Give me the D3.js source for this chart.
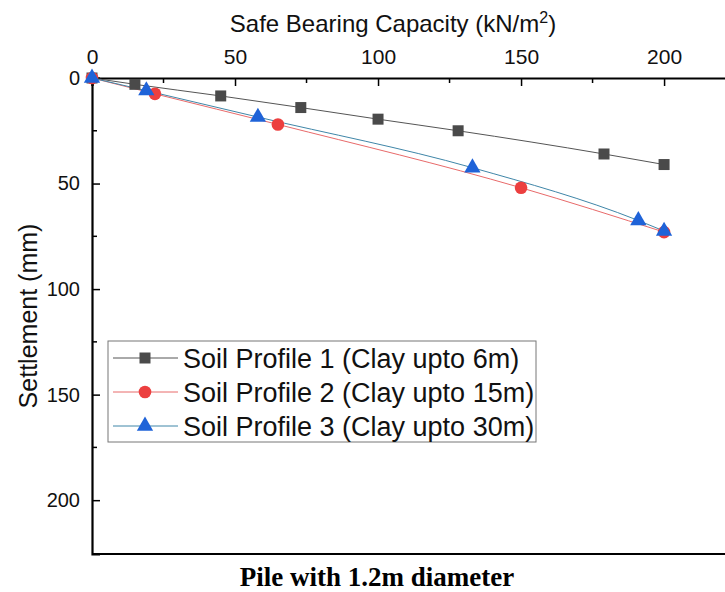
<!DOCTYPE html>
<html>
<head>
<meta charset="utf-8">
<script src="https://cdn.jsdelivr.net/npm/d3@7"></script>
<style>
  body { margin: 0; background: #fff; }
  svg { display: block; }
</style>
</head>
<body>
<div id="chart"></div>
<script>
'use strict';

// data
var xTicks = [0, 50, 100, 150, 200];
var yTicks = [0, 50, 100, 150, 200];
var xMinor = [25, 75, 125, 175, 225];
var yMinor = [25, 75, 125, 175];

var sbc1 = [0, 15, 45, 73, 100, 128, 179, 200];
var set1 = [0, 3, 8.5, 14, 19.5, 25, 36, 41];

var sbc2 = [0, 22, 65, 150, 200];
var set2 = [0, 7.5, 22, 52, 73];

var sbc3 = [0, 19, 58, 133, 191, 200];
var set3 = [0, 6, 18.5, 42.5, 67.5, 72.5];

var names = ["Soil Profile 1 (Clay upto 6m)", "Soil Profile 2 (Clay upto 15m)", "Soil Profile 3 (Clay upto 30m)"];

var W = 725, H = 592;
var margin = {top: 78, left: 92, bottom: 38};
var sans = "Liberation Sans, Arial, sans-serif";

var svg = d3.select("#chart").append("svg")
  .attr("width", W)
  .attr("height", H);

var x = d3.scaleLinear().domain([0, 222]).range([margin.left, 727]);
var y = d3.scaleLinear().domain([0, 225.5]).range([margin.top, H - margin.bottom]);

// top axis, ticks pointing into the plot
var xAxis = svg.append("g").attr("transform", "translate(0," + margin.top + ")");
xAxis.call(d3.axisTop(x).tickValues(xTicks).tickSize(-8).tickPadding(14).tickFormat(d3.format("d")));
xAxis.append("g").selectAll("line").data(xMinor).enter().append("line")
  .attr("x1", function(d) { return x(d); }).attr("x2", function(d) { return x(d); })
  .attr("y1", 0).attr("y2", 5).attr("stroke", "#000").attr("stroke-width", 1.5);
xAxis.selectAll(".tick text").attr("font-size", 21);

var yAxis = svg.append("g").attr("transform", "translate(" + margin.left + ",0)");
yAxis.call(d3.axisLeft(y).tickValues(yTicks).tickSize(-8).tickPadding(12).tickFormat(d3.format("d")));
yAxis.append("g").selectAll("line").data(yMinor).enter().append("line")
  .attr("y1", function(d) { return y(d); }).attr("y2", function(d) { return y(d); })
  .attr("x1", 0).attr("x2", 5).attr("stroke", "#000").attr("stroke-width", 1.5);
yAxis.selectAll(".tick text").attr("font-size", 20);

svg.selectAll(".domain").attr("stroke", "#000").attr("stroke-width", 2.2);
svg.selectAll(".tick line").attr("stroke", "#000").attr("stroke-width", 1.5);
svg.selectAll(".tick text")
  .attr("font-family", sans)
  .attr("fill", "#111");

// bottom frame line
svg.append("line")
  .attr("x1", x(0)).attr("x2", W)
  .attr("y1", y(225.5)).attr("y2", y(225.5))
  .attr("stroke", "#000").attr("stroke-width", 2.2);

// axis titles
svg.append("text")
  .attr("x", 393).attr("y", 32)
  .attr("text-anchor", "middle")
  .attr("font-family", sans)
  .attr("font-size", 24)
  .attr("fill", "#111")
  .html("Safe Bearing Capacity (kN/m<tspan dy='-9' font-size='16'>2</tspan><tspan dy='9'>)</tspan>");

svg.append("text")
  .attr("transform", "translate(37," + ((y(0) + y(225.5)) / 2) + ") rotate(-90)")
  .attr("text-anchor", "middle")
  .attr("font-family", sans)
  .attr("font-size", 25)
  .attr("fill", "#111")
  .text("Settlement (mm)");

svg.append("text")
  .attr("x", 377).attr("y", 586)
  .attr("text-anchor", "middle")
  .attr("font-family", "Liberation Serif, Times New Roman, serif")
  .attr("font-weight", "bold")
  .attr("font-size", 27)
  .attr("fill", "#000")
  .text("Pile with 1.2m diameter");

// series
var series = [
  {xs: sbc1, ys: set1, line: "#555", fill: "#4a4a4a", shape: d3.symbolSquare, size: 121},
  {xs: sbc2, ys: set2, line: "#e86a6a", fill: "#ec3f3f", shape: d3.symbolCircle, size: 125},
  {xs: sbc3, ys: set3, line: "#3f86a8", fill: "#1f63d8", shape: d3.symbolTriangle, size: 115}
];

var line = d3.line()
  .x(function(d) { return x(d[0]); })
  .y(function(d) { return y(d[1]); })
  .curve(d3.curveMonotoneX);

series.forEach(function(s) {
  var pts = s.xs.map(function(v, i) { return [v, s.ys[i]]; });
  svg.append("path")
    .datum(pts)
    .attr("fill", "none")
    .attr("stroke", s.line)
    .attr("stroke-width", 1)
    .attr("d", line);
});

series.forEach(function(s) {
  var pts = s.xs.map(function(v, i) { return [v, s.ys[i]]; });
  svg.append("g").selectAll("path")
    .data(pts)
    .enter()
    .append("path")
      .attr("transform", function(d) { return "translate(" + x(d[0]) + "," + y(d[1]) + ")"; })
      .attr("d", d3.symbol().type(s.shape).size(s.size))
      .attr("fill", s.fill);
});

// legend
var lg = svg.append("g").attr("transform", "translate(108,341)");
lg.append("rect")
  .attr("width", 428).attr("height", 101)
  .attr("fill", "#fff")
  .attr("stroke", "#777").attr("stroke-width", 1);

series.forEach(function(s, i) {
  var row = lg.append("g").attr("transform", "translate(0," + (17 + i * 34) + ")");
  row.append("line")
    .attr("x1", 5).attr("x2", 70)
    .attr("stroke", s.line).attr("stroke-width", 1);
  row.append("path")
    .attr("transform", "translate(37,0)")
    .attr("d", d3.symbol().type(s.shape).size(s.size))
    .attr("fill", s.fill);
  row.append("text")
    .attr("x", 75).attr("y", 9.5)
    .attr("font-family", sans)
    .attr("font-size", 27)
    .attr("fill", "#111")
    .text(names[i]);
});
</script>
</body>
</html>
